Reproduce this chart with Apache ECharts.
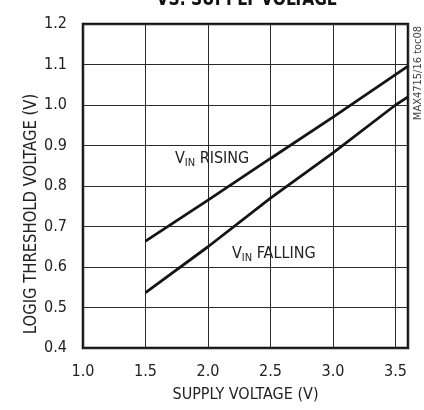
<!DOCTYPE html>
<html><head><meta charset="utf-8">
<script src="https://cdn.jsdelivr.net/npm/echarts@6/dist/echarts.min.js"></script>
<style>html,body{margin:0;padding:0;background:#fff}#c{width:424px;height:410px}</style>
</head><body><div id="c"></div>
<script>
var supplyV = [1.5, 2.0, 2.5, 3.0, 3.5, 3.6];
var vinRising = [0.664, 0.765, 0.868, 0.970, 1.075, 1.096];
var vinFalling = [0.537, 0.650, 0.770, 0.882, 1.000, 1.020];
var titleText = 'VS. SUPPLY VOLTAGE';
var xName = 'SUPPLY VOLTAGE (V)';
var yName = 'LOGIG THRESHOLD VOLTAGE (V)';
var tocText = 'MAX4715/16 toc08';

var FONT = "'Liberation Sans Narrow','DejaVu Sans Condensed',sans-serif";
function pairs(xs, ys){ return xs.map(function(x,i){ return [x, ys[i]]; }); }

var chart = echarts.init(document.getElementById('c'), null, {renderer:'canvas'});
chart.setOption({
  animation:false,
  backgroundColor:'#fff',
  grid:{left:83, right:16, top:24, bottom:62, show:true, borderColor:'#111', borderWidth:2.5, containLabel:false},
  xAxis:{type:'value', min:1.0, max:3.6, interval:0.5,
    axisLine:{show:false}, axisTick:{show:false},
    splitLine:{show:true, lineStyle:{color:'#2a2a2a', width:1}},
    axisLabel:{margin:16, showMaxLabel:false, color:'#222', fontFamily:FONT, fontSize:16,
      formatter:function(v){ return v.toFixed(1); }},
    name:xName, nameLocation:'middle', nameGap:39,
    nameTextStyle:{color:'#222', fontFamily:FONT, fontSize:16}},
  yAxis:{type:'value', min:0.4, max:1.2, interval:0.1,
    axisLine:{show:false}, axisTick:{show:false},
    splitLine:{show:true, lineStyle:{color:'#2a2a2a', width:1}},
    axisLabel:{margin:16, color:'#222', fontFamily:FONT, fontSize:16,
      formatter:function(v){ return v.toFixed(1); }}},
  series:[
    {type:'line', data:pairs(supplyV, vinRising), symbol:'none', lineStyle:{color:'#151515', width:2.8}},
    {type:'line', data:pairs(supplyV, vinFalling), symbol:'none', lineStyle:{color:'#151515', width:2.8}}
  ],
  graphic:[
    {type:'text', x:247, y:0, scaleX:0.86, style:{text:titleText, align:'center', verticalAlign:'middle', fill:'#111', font:"bold 20px "+FONT}},
    {type:'text', x:32, y:214, rotation:Math.PI/2, scaleX:0.97, style:{text:yName, align:'center', verticalAlign:'middle', fill:'#222', font:"17px "+FONT}},
    {type:'text', x:418, y:73, rotation:Math.PI/2, style:{text:tocText, align:'center', verticalAlign:'middle', fill:'#444', font:"11px "+FONT}},
    {type:'text', x:175, y:159, style:{text:'{v|V}{s|IN}{v| RISING}', verticalAlign:'middle',
      rich:{v:{fontSize:16, fontFamily:FONT, fill:'#222', lineHeight:20, verticalAlign:'middle'},
            s:{fontSize:11, fontFamily:FONT, fill:'#222', lineHeight:20, verticalAlign:'bottom'}}}},
    {type:'text', x:232, y:254, style:{text:'{v|V}{s|IN}{v| FALLING}', verticalAlign:'middle',
      rich:{v:{fontSize:16, fontFamily:FONT, fill:'#222', lineHeight:20, verticalAlign:'middle'},
            s:{fontSize:11, fontFamily:FONT, fill:'#222', lineHeight:20, verticalAlign:'bottom'}}}}
  ]
});
</script></body></html>
